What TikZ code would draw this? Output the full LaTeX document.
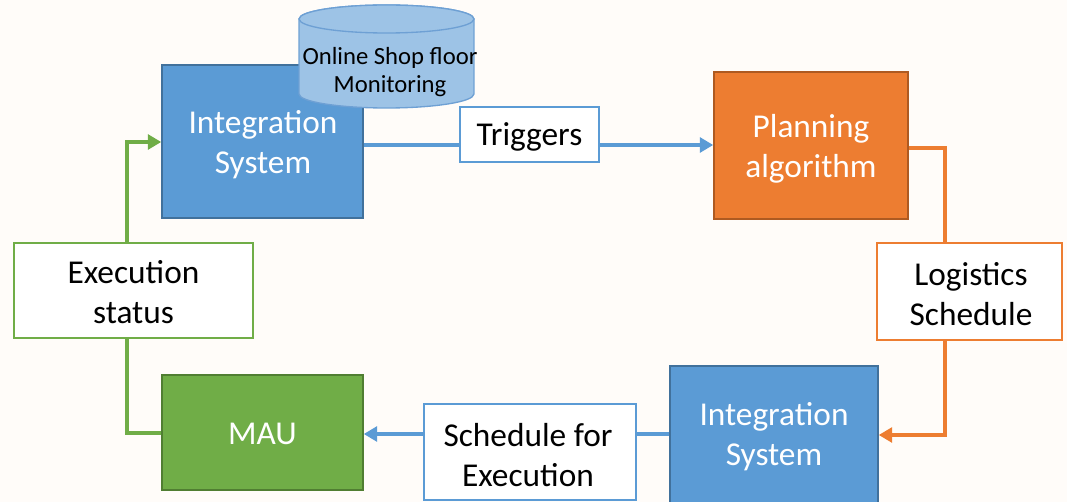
\documentclass[tikz,border=0pt]{standalone}
\usepackage{fontspec}
\setmainfont{Carlito}
\usetikzlibrary{arrows.meta}

\definecolor{bgpaper}{RGB}{255,252,249}
\definecolor{isblue}{RGB}{91,155,213}
\definecolor{isblueedge}{RGB}{65,113,156}
\definecolor{planorange}{RGB}{237,125,49}
\definecolor{planorangeedge}{RGB}{174,90,33}
\definecolor{maugreen}{RGB}{112,173,71}
\definecolor{maugreenedge}{RGB}{80,126,50}
\definecolor{dbfill}{RGB}{157,195,230}
\definecolor{dbedge}{RGB}{110,160,212}

\tikzset{
  block/.style={draw, line width=1.1pt, inner sep=0pt},
  blocktext/.style={align=center, text=white, inner sep=0pt,
    font=\fontsize{25}{30}\selectfont},
  tag/.style={draw, fill=white, line width=1.5pt, inner sep=0pt},
  tagtext/.style={align=center, text=black, inner sep=0pt,
    font=\fontsize{25}{30}\selectfont},
  flow/.style={line width=3pt},
  tip/.style={-{Triangle[length=10pt,width=11pt]}},
}

\begin{document}
\begin{tikzpicture}[x=0.75pt,y=-0.75pt]
  \useasboundingbox (0,0) rectangle (1067,502);
  \fill[bgpaper] (0,0) rectangle (1067,502);

  % main blocks
  \node[block, fill=isblue, draw=isblueedge, minimum width=150.75pt, minimum height=114.75pt]
    (isA) at (262.5,141.5) {};
  \node[blocktext] (isAtxt) at (263,145) {Integration\\System};
  \node[block, fill=planorange, draw=planorangeedge, minimum width=145.5pt, minimum height=110.25pt]
    (plan) at (811,145.5) {};
  \node[blocktext] (plantxt) at (811,149) {Planning\\algorithm};
  \node[block, fill=isblue, draw=isblueedge, minimum width=156pt, minimum height=103.5pt]
    (isB) at (774,435) {};
  \node[blocktext] (isBtxt) at (774,437) {Integration\\System};
  \node[block, fill=maugreen, draw=maugreenedge, minimum width=150.75pt, minimum height=86.25pt]
    (mau) at (262.5,432.5) {};
  \node[blocktext] (mautxt) at (262.5,434) {MAU};

  % database cylinder on top of the first integration block
  \filldraw[fill=dbfill, draw=dbedge, line width=1pt]
    (299,19) -- (299,94) arc[start angle=180, end angle=360, x radius=65.6pt, y radius=10.5pt]
    -- (474,19) arc[start angle=0, end angle=180, x radius=65.6pt, y radius=10.5pt] -- cycle;
  \filldraw[fill=dbfill, draw=dbedge, line width=1pt]
    (386.5,19) ellipse[x radius=65.6pt, y radius=10.5pt];
  \node[align=center, font=\fontsize{18.5}{21}\selectfont, inner sep=0pt]
    (shop) at (390,72) {Online Shop floor\\Monitoring};

  % labels on the connectors
  \node[tag, draw=isblue, minimum width=104.25pt, minimum height=41.25pt]
    (trig) at (529.5,134.5) {};
  \node[tagtext] (trigtxt) at (529.5,137) {Triggers};
  \node[tag, draw=planorange, minimum width=138.75pt, minimum height=72.75pt]
    (logi) at (969.5,291.5) {};
  \node[tagtext] (logitxt) at (971,294) {Logistics\\Schedule};
  \node[tag, draw=isblue, minimum width=159pt, minimum height=72pt]
    (sched) at (530,452) {};
  \node[tagtext] (schedtxt) at (528,455) {Schedule for\\Execution};
  \node[tag, draw=maugreen, minimum width=179.25pt, minimum height=71.25pt]
    (exec) at (133.5,290.5) {};
  \node[tagtext] (exectxt) at (133.5,292) {Execution\\status};

  % bend points of the routed connectors
  \coordinate (oTop) at (945,148);
  \coordinate (oBot) at (945,435);
  \coordinate (gBot) at (127,433);
  \coordinate (gTop) at (127,142);

  % integration -> planning
  \draw[flow, isblue] (isA.east |- 0,145) -- (trig.west |- 0,145);
  \draw[flow, isblue, tip] (trig.east |- 0,145) -- (plan.west |- 0,145);

  % planning -> integration
  \draw[flow, planorange] (plan.east |- oTop) -- (oTop) -- (oTop |- logi.north);
  \draw[flow, planorange, tip] (oTop |- logi.south) -- (oBot) -- (isB.east |- oBot);

  % integration -> MAU
  \draw[flow, isblue] (isB.west |- 0,434) -- (sched.east |- 0,434);
  \draw[flow, isblue, tip] (sched.west |- 0,434) -- (mau.east |- 0,434);

  % MAU -> integration
  \draw[flow, maugreen] (mau.west |- gBot) -- (gBot) -- (gBot |- exec.south);
  \draw[flow, maugreen, tip] (gTop |- exec.north) -- (gTop) -- (isA.west |- gTop);
\end{tikzpicture}
\end{document}
